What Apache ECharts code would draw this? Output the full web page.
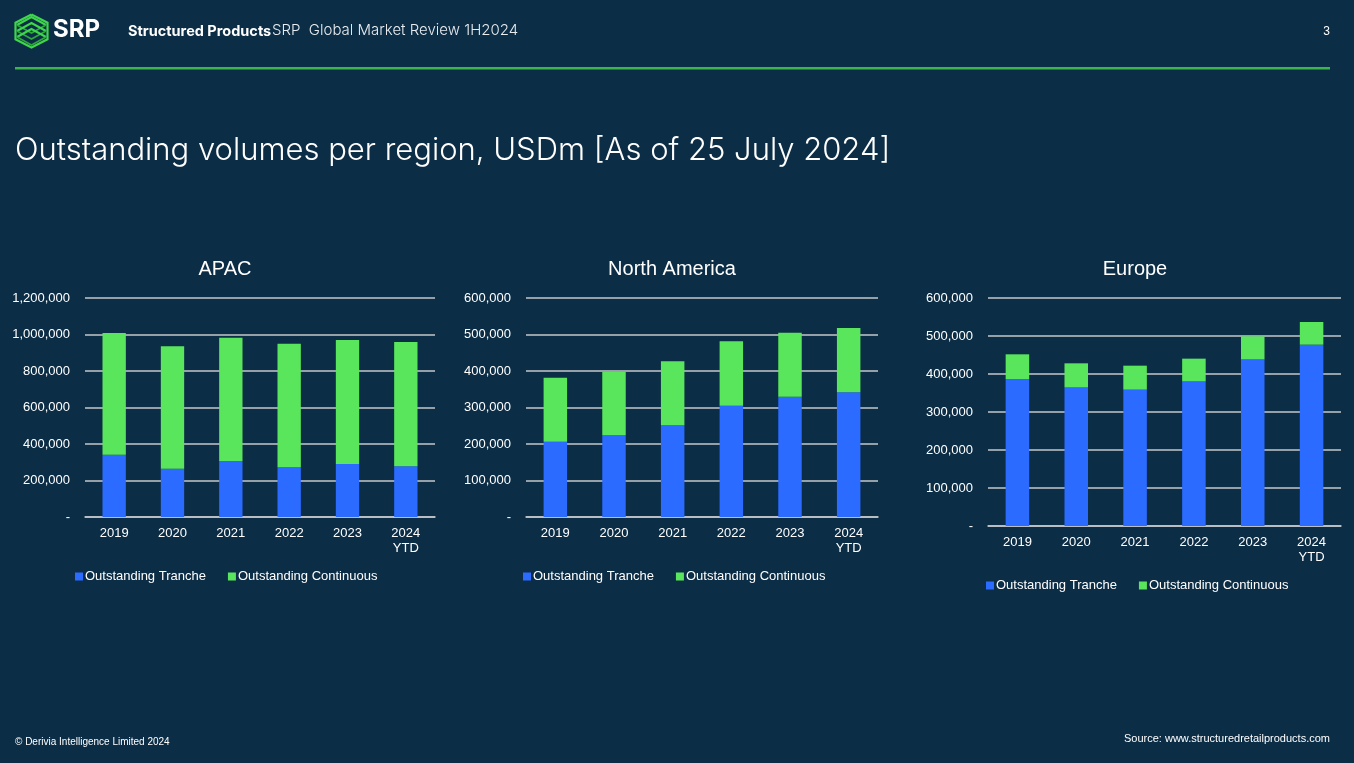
<!DOCTYPE html>
<html><head><meta charset="utf-8">
<script src="https://cdn.jsdelivr.net/npm/echarts@6/dist/echarts.min.js"></script>
<style>html,body{margin:0;padding:0;background:#0c2d46;}#c{width:1354px;height:763px;}</style>
</head><body><div id="c"></div>
<script>
const categories = ['2019', '2020', '2021', '2022', '2023', '2024\nYTD'];
const regions = ['APAC', 'North America', 'Europe'];
const seriesNames = ['Outstanding Tranche', 'Outstanding Continuous'];
const apacTranche = [341600, 264800, 306800, 272100, 290400, 277600];
const apacContinuous = [666400, 670200, 675800, 677700, 679500, 681300];
const naTranche = [206400, 223700, 251100, 305000, 329700, 341600];
const naContinuous = [175300, 174500, 175400, 176300, 175300, 176200];
const euTranche = [386800, 364900, 358800, 380700, 438600, 477200];
const euContinuous = [65000, 63200, 63100, 59700, 60500, 59600];
const apacTicks = [0, 1200000, 200000];
const naTicks = [0, 600000, 100000];
const euTicks = [0, 600000, 100000];

const BLUE = '#2b6bff', GREEN = '#5ae65c', FG = '#ffffff', GRID = '#c3c7cb';
const FONT = '"Liberation Sans", Arial, sans-serif';
const layouts = [
  {left: 85, right: 1354 - 435, top: 298, bottom: 763 - 517, titleX: 225, legendX: 70, legendY: 565},
  {left: 526, right: 1354 - 878, top: 298, bottom: 763 - 517, titleX: 672, legendX: 518, legendY: 565},
  {left: 988, right: 1354 - 1341, top: 298, bottom: 763 - 526, titleX: 1135, legendX: 981, legendY: 574}
];
const data = [[apacTranche, apacContinuous], [naTranche, naContinuous], [euTranche, euContinuous]];
const ticks = [apacTicks, naTicks, euTicks];

const option = {
  backgroundColor: '#0c2d46',
  animation: false,
  textStyle: {fontFamily: FONT},
  grid: layouts.map(l => ({left: l.left, right: l.right, top: l.top, bottom: l.bottom, containLabel: false})),
  legend: layouts.map((l, i) => ({
    left: l.legendX, top: l.legendY, itemWidth: 8, itemHeight: 8, itemGap: 22,
    icon: 'rect', data: seriesNames.map(n => n + (i ? '\u200b'.repeat(i) : '')),
    textStyle: {color: FG, fontSize: 13, fontFamily: FONT, padding: [0, 0, 0, -3]},
    formatter: n => n.replace(/\u200b/g, '')
  })),
  xAxis: layouts.map((l, i) => ({
    type: 'category', gridIndex: i, data: categories,
    axisLine: {lineStyle: {color: GRID, width: 1.5}}, axisTick: {show: false},
    axisLabel: {color: FG, fontSize: 13, margin: 9, lineHeight: 15, fontFamily: FONT}
  })),
  yAxis: layouts.map((l, i) => ({
    type: 'value', gridIndex: i, min: ticks[i][0], max: ticks[i][1], interval: ticks[i][2],
    axisLine: {show: false}, axisTick: {show: false},
    splitLine: {lineStyle: {color: GRID, width: 1.5}},
    axisLabel: {color: FG, fontSize: 13, margin: 15, fontFamily: FONT,
      formatter: v => v === 0 ? '-' : v.toLocaleString('en-US')}
  })),
  series: [],
  graphic: []
};
data.forEach((pair, i) => {
  pair.forEach((vals, j) => {
    option.series.push({
      type: 'bar', name: seriesNames[j] + (i ? '\u200b'.repeat(i) : ''), stack: 's' + i,
      xAxisIndex: i, yAxisIndex: i, data: vals, barWidth: '40%',
      itemStyle: {color: j ? GREEN : BLUE}
    });
  });
});
option.color = [BLUE, GREEN];

const g = option.graphic;
// chart titles
regions.forEach((r, i) => {
  g.push({type: 'text', x: layouts[i].titleX, y: 269, style: {text: r, fill: FG, font: '20px ' + FONT, align: 'center', verticalAlign: 'middle'}});
});
// logo: stacked hexagon layers
const logoPts = (cx, cy, w, h) => [[cx, cy - h], [cx + w, cy - h / 2], [cx + w, cy + h / 2], [cx, cy + h], [cx - w, cy + h / 2], [cx - w, cy - h / 2], [cx, cy - h]];
g.push({type: 'polyline', shape: {points: logoPts(31.5, 31, 16, 16.5)}, style: {stroke: '#3fd64c', lineWidth: 2.2, fill: null}});
[[-6], [0], [6]].forEach(([dy]) => {
  g.push({type: 'polyline', shape: {points: [[17, 31 + dy], [31.5, 23 + dy], [46, 31 + dy]]}, style: {stroke: '#3fd64c', lineWidth: 2, fill: null}});
  g.push({type: 'polyline', shape: {points: [[17, 31 + dy], [31.5, 39 + dy], [46, 31 + dy]]}, style: {stroke: '#2fa83a', lineWidth: 1.6, fill: null}});
});
g.push({type: 'text', left: 53, top: 18, style: {text: 'SRP', fill: '#ffffff', font: 'bold 24px Inter, "Liberation Sans", sans-serif'}});
g.push({type: 'text', left: 128, top: 24, style: {text: 'Structured Products', fill: '#ffffff', font: 'bold 14.5px Inter, sans-serif'}});
g.push({type: 'text', left: 272, top: 23, style: {text: 'SRP  Global Market Review 1H2024', fill: '#e8ecef', font: '300 15px Inter, sans-serif'}});
g.push({type: 'text', right: 24, top: 26, style: {text: '3', fill: '#ffffff', font: '12px "Liberation Sans", sans-serif'}});
g.push({type: 'rect', shape: {x: 15, y: 67, width: 1315, height: 2.5}, style: {fill: '#3bb54a'}});
g.push({type: 'text', left: 15, top: 135, style: {text: 'Outstanding volumes per region, USDm [As of 25 July 2024]', fill: '#ffffff', font: '300 31px Inter, sans-serif'}});
g.push({type: 'text', left: 15, top: 737, style: {text: '\u00a9 Derivia Intelligence Limited 2024', fill: '#ffffff', font: '10px "Liberation Sans", sans-serif'}});
g.push({type: 'text', right: 24, top: 733, style: {text: 'Source: www.structuredretailproducts.com', fill: '#ffffff', font: '11px "Liberation Sans", sans-serif'}});

const chart = echarts.init(document.getElementById('c'), null, {renderer: 'canvas'});
chart.setOption(option);
</script></body></html>
